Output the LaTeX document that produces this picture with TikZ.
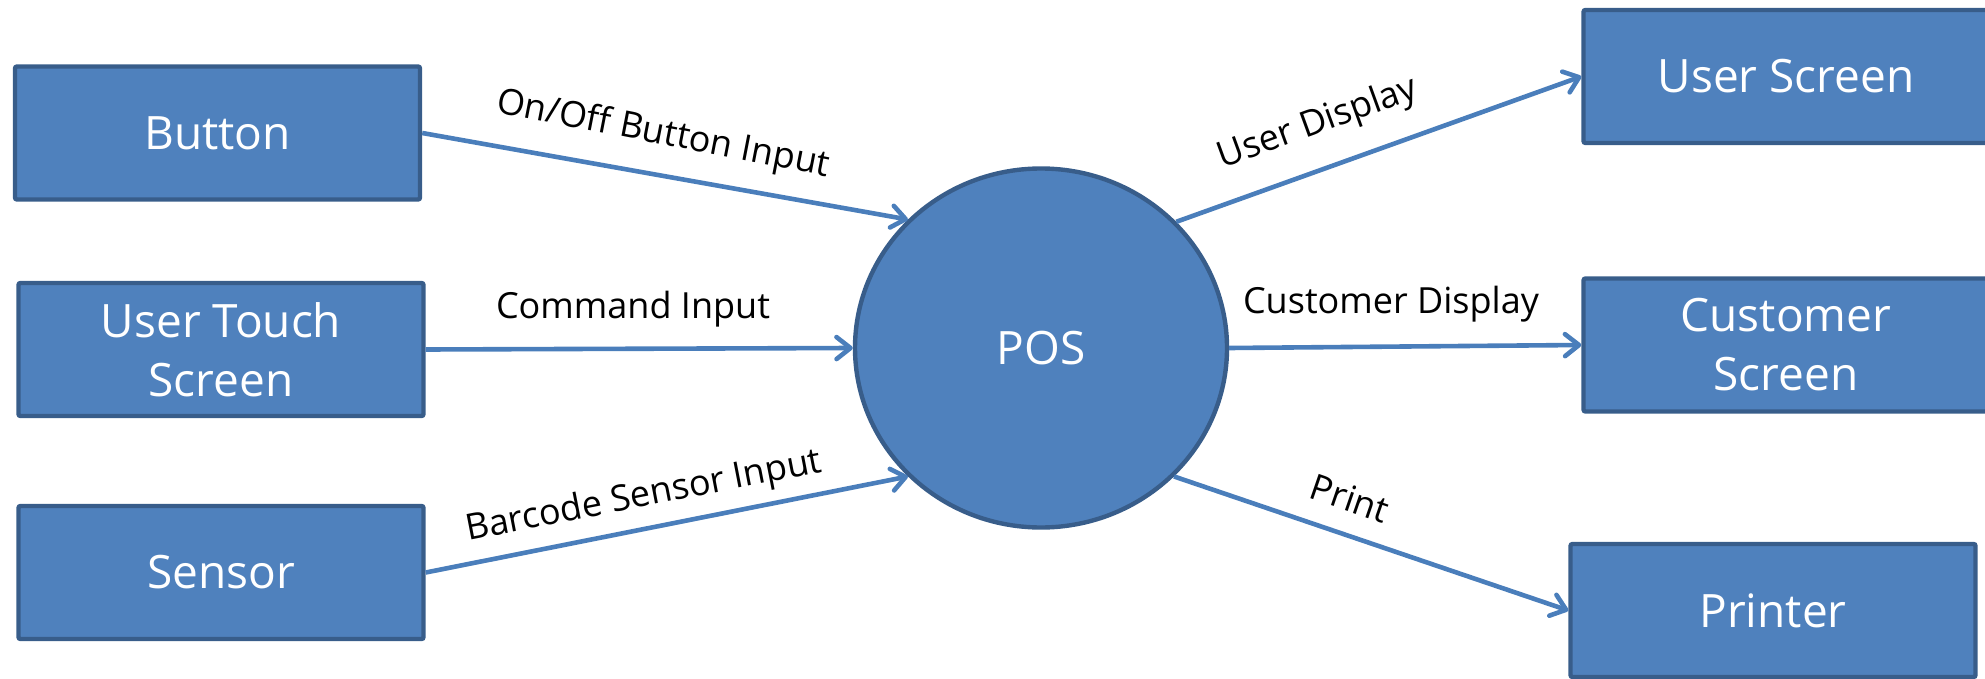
\documentclass[tikz,border=0pt]{standalone}
\usepackage{fontspec}
\setmainfont{Open Sans}
\usetikzlibrary{shapes.geometric,arrows.meta}
\definecolor{boxfill}{HTML}{4F81BD}
\definecolor{boxline}{HTML}{385D8A}
\definecolor{arrowcol}{HTML}{4A7EBB}
\begin{document}
\begin{tikzpicture}[x=0.5pt,y=-0.5pt,
  ent/.style={draw=boxline, fill=boxfill, line width=2.2pt, rectangle, rounded corners=1pt,
    minimum width=202.5pt, minimum height=66.5pt, inner sep=0pt, text=white,
    align=center, font=\fontsize{23}{29.5}\selectfont},
  proc/.style={draw=boxline, fill=boxfill, line width=2.2pt, ellipse,
    minimum width=186pt, minimum height=179.5pt, inner sep=0pt, text=white,
    font=\fontsize{23}{27}\selectfont},
  flow/.style={draw=arrowcol, line width=2.3pt, -{Straight Barb[length=7pt,width=11pt,round]}},
  lbl/.style={inner sep=0pt, font=\fontsize{18}{21}\selectfont, text=black}
]
\useasboundingbox (0,0) rectangle (1985,679);
\node[ent] (btn) at (217.5,133) {Button};
\node[ent] (uts) at (221,349.5) {User Touch\\Screen};
\node[ent] (sen) at (221,572.5) {Sensor};
\node[proc] (pos) at (1041,348) {POS};
\node[ent] (us) at (1786,76.5) {User Screen};
\node[ent] (cs) at (1786,345) {Customer\\Screen};
\node[ent] (pr) at (1773,610.5) {Printer};

\draw[flow] (btn.east) -- (pos.136);
\draw[flow] (uts.east) -- (pos.west);
\draw[flow] (sen.east) -- (pos.224);
\draw[flow] (pos.43) -- (us.west);
\draw[flow] (pos.east) -- (cs.west);
\draw[flow] (pos.316) -- (pr.west);

\node[lbl, rotate=-11] (l1) at (663,135) {On/Off Button Input};
\node[lbl] (l2) at (633,309) {Command Input};
\node[lbl, rotate=11] (l3) at (644,497) {Barcode Sensor Input};
\node[lbl, rotate=20] (l4) at (1318,124) {User Display};
\node[lbl] (l5) at (1391,304) {Customer Display};
\node[lbl, rotate=-19] (l6) at (1350,498) {Print};
\end{tikzpicture}
\end{document}
